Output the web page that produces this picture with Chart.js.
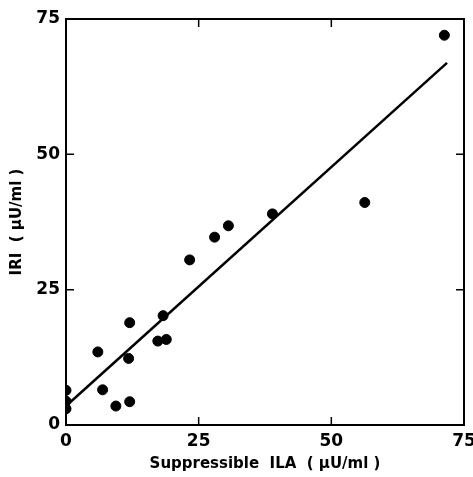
<!DOCTYPE html>
<html>
<head>
<meta charset="utf-8">
<script src="https://cdn.jsdelivr.net/npm/chart.js"></script>
<style>
  html, body { margin: 0; padding: 0; background: #fff; }
  #wrap { width: 473px; height: 477px; }
</style>
</head>
<body>
<div id="wrap"><canvas id="chart" width="473" height="477"></canvas></div>
<script>
// suppressible ILA (x) vs IRI (y), both in µU/ml
const ilaValues = [0, 0, 0, 6.0, 6.9, 9.4, 12.0, 11.8, 12.0, 17.3, 18.9, 18.3, 23.3, 28.0, 30.6, 38.9, 56.3, 71.3];
const iriValues = [6.4, 4.4, 3.0, 13.5, 6.5, 3.5, 18.9, 12.3, 4.3, 15.5, 15.8, 20.2, 30.5, 34.7, 36.8, 39.0, 41.1, 72.0];

// regression line end points
const fitX = [0, 71.8];
const fitY = [3.5, 66.9];

const axisTicks = [0, 25, 50, 75];
const xTitle = "Suppressible  ILA  ( μU/ml )";
const yTitle = "IRI  ( μU/ml )";

const points = ilaValues.map((x, i) => ({ x: x, y: iriValues[i] }));
const fitLine = fitX.map((x, i) => ({ x: x, y: fitY[i] }));

// frame + inward ticks on all four sides
const frameTicks = {
  id: 'frameTicks',
  afterDraw(chart) {
    const ctx = chart.ctx;
    const a = chart.chartArea;
    const xs = chart.scales.x;
    const ys = chart.scales.y;
    const len = 8;
    ctx.save();
    ctx.strokeStyle = '#000';
    ctx.lineWidth = 2;
    ctx.strokeRect(a.left, a.top, a.right - a.left, a.bottom - a.top);
    ctx.lineWidth = 1.5;
    ctx.beginPath();
    axisTicks.forEach(v => {
      const px = xs.getPixelForValue(v);
      ctx.moveTo(px, a.bottom); ctx.lineTo(px, a.bottom - len);
      ctx.moveTo(px, a.top); ctx.lineTo(px, a.top + len);
      const py = ys.getPixelForValue(v);
      ctx.moveTo(a.left, py); ctx.lineTo(a.left + len, py);
      ctx.moveTo(a.right, py); ctx.lineTo(a.right - len, py);
    });
    ctx.stroke();
    ctx.restore();
  }
};

const tickFont = { family: 'DejaVu Sans', size: 17, weight: 'bold' };
const titleFont = { family: 'DejaVu Sans', size: 15, weight: 'bold' };

new Chart(document.getElementById('chart'), {
  type: 'scatter',
  data: {
    datasets: [
      {
        data: points,
        backgroundColor: '#000',
        borderColor: '#000',
        pointRadius: 5,
        pointHoverRadius: 5
      },
      {
        type: 'line',
        data: fitLine,
        borderColor: '#000',
        borderWidth: 2.5,
        pointRadius: 0,
        fill: false
      }
    ]
  },
  options: {
    responsive: false,
    animation: false,
    layout: { padding: { top: 19, right: 9, left: 0, bottom: 0 } },
    plugins: { legend: { display: false }, tooltip: { enabled: false } },
    scales: {
      x: {
        type: 'linear',
        min: 0, max: 75,
        afterBuildTicks: s => { s.ticks = axisTicks.map(v => ({ value: v })); },
        afterFit: s => { s.height = 52; s.paddingLeft = 0; s.paddingRight = 0; },
        grid: { display: false, drawTicks: false },
        border: { display: false },
        ticks: { color: '#000', font: tickFont, padding: 6, maxRotation: 0 },
        title: { display: true, text: xTitle, color: '#000', font: titleFont, padding: { top: 2 } }
      },
      y: {
        type: 'linear',
        min: 0, max: 75,
        afterBuildTicks: s => { s.ticks = axisTicks.map(v => ({ value: v })); },
        afterFit: s => { s.width = 66; s.paddingTop = 0; s.paddingBottom = 0; },
        grid: { display: false, drawTicks: false },
        border: { display: false },
        ticks: { color: '#000', font: tickFont, padding: 6 },
        title: { display: true, text: yTitle, color: '#000', font: titleFont, padding: { top: 8, bottom: 0 } }
      }
    }
  },
  plugins: [frameTicks]
});
</script>
</body>
</html>
